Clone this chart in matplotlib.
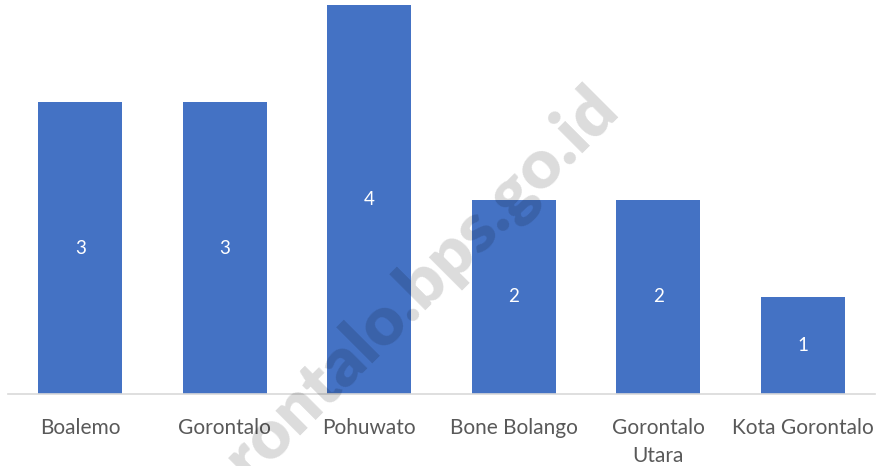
import matplotlib.pyplot as plt

plt.rcParams['font.family'] = ['Lato', 'DejaVu Sans']

kabupaten = ['Boalemo', 'Gorontalo', 'Pohuwato', 'Bone Bolango', 'Gorontalo\nUtara', 'Kota Gorontalo']
jumlah = [3, 3, 4, 2, 2, 1]

fig = plt.figure(figsize=(8.83, 4.66), dpi=100)
ax = fig.add_axes([8 / 883, 1 - 394 / 466, 867 / 883, 389 / 466])

x = range(len(kabupaten))
bars = ax.bar(x, jumlah, width=0.58, color='#4472c4', zorder=2)
for b, v in zip(bars, jumlah):
    ax.text(b.get_x() + b.get_width() / 2, v / 2, str(v), ha='center', va='center',
            color='white', fontsize=13.5)

ax.set_xlim(-0.5, len(kabupaten) - 0.5)
ax.set_ylim(0, 4)
ax.set_xticks(list(x))
ax.set_xticklabels(kabupaten, fontsize=15, color='#595959', linespacing=1.55, va='top')
ax.tick_params(axis='x', length=0, pad=17)
ax.set_yticks([])
for s in ['top', 'left', 'right']:
    ax.spines[s].set_visible(False)
ax.spines['bottom'].set_color('#d9d9d9')
ax.spines['bottom'].set_linewidth(1.2)

# watermark (runs off the bottom edge like the original)
fig.text(395 / 883, 1 - 312 / 466, 'gorontalo.bps.go.id', rotation=45, ha='center', va='center',
         fontsize=50, fontweight='heavy', color='black', alpha=0.14, zorder=10)

fig.savefig('out.png', dpi=100)
